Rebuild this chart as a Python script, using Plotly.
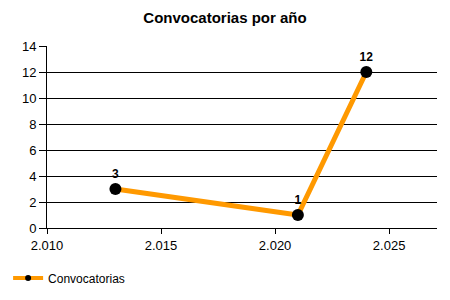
import plotly.graph_objects as go

years = [2013, 2021, 2024]
counts = [3, 1, 12]
labels = [str(v) for v in counts]
series_name = "Convocatorias"
title = "Convocatorias por año"

ORANGE = "#FF9900"
FONT = "Liberation Sans, Arial"

fig = go.Figure()
fig.add_trace(go.Scatter(
    x=years, y=counts, name=series_name,
    mode="lines+markers+text",
    text=labels, textposition="top center",
    textfont=dict(family=FONT, size=12, color="black", weight="bold"),
    line=dict(color=ORANGE, width=5),
    marker=dict(color="black", size=12),
    cliponaxis=False, showlegend=False,
))
# legend entry (small marker like the reference)
fig.add_trace(go.Scatter(
    x=[None], y=[None], name=series_name, mode="lines+markers",
    line=dict(color=ORANGE, width=4),
    marker=dict(color="black", size=6),
    showlegend=True,
))

fig.update_layout(
    width=450, height=300,
    margin=dict(l=47, r=13, t=46, b=72),
    paper_bgcolor="white", plot_bgcolor="white",
    separators=",.",
    font=dict(family=FONT, size=13, color="black"),
    title=dict(text="<b>" + title + "</b>", x=0.5, xanchor="center", y=0.94, yanchor="middle",
               font=dict(size=15, color="black")),
    showlegend=True,
    legend=dict(orientation="h", x=0.018, xanchor="left", xref="container",
                y=0.073, yanchor="middle", yref="container",
                font=dict(size=12), bgcolor="rgba(0,0,0,0)",
                itemwidth=30, tracegroupgap=0),
    xaxis=dict(range=[2010, 2027.1], tickmode="linear", tick0=2010, dtick=5, tickformat=",d",
               showgrid=False, zeroline=False, showline=True, linecolor="black", linewidth=1,
               ticks="outside", ticklen=5, tickcolor="black"),
    yaxis=dict(range=[0, 14], tickmode="linear", tick0=0, dtick=2,
               showgrid=True, gridcolor="black", gridwidth=1, zeroline=False,
               showline=True, linecolor="black", linewidth=1,
               ticks="outside", ticklen=7, tickcolor="black", ticklabelstandoff=0),
)

fig.write_html("out.html")
